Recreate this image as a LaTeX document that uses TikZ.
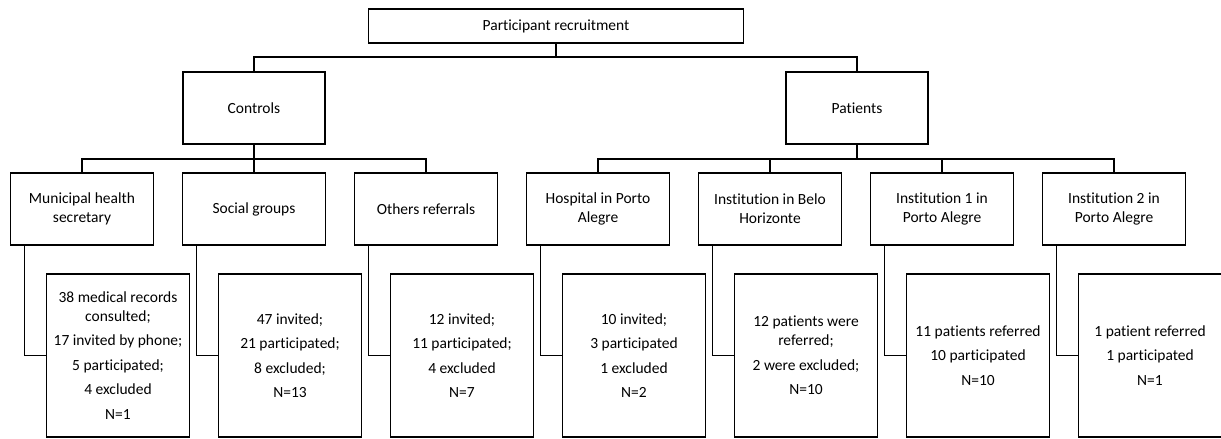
\documentclass[tikz,border=0pt]{standalone}
\usepackage{fontspec}
\setmainfont{Carlito}[Ligatures=NoCommon]
\usetikzlibrary{positioning}
\tikzset{
  box/.style={draw, line width=1.8pt, outer sep=0pt, inner sep=2pt, align=center,
    font=\fontsize{15.5}{19}\selectfont},
  headbox/.style={box, minimum width=375pt, minimum height=34pt},
  groupbox/.style={box, minimum width=142pt, minimum height=72pt},
  sitebox/.style={box, minimum width=143pt, minimum height=72pt},
  countbox/.style={box, minimum width=143pt, minimum height=163pt},
  link/.style={line width=1.8pt}
}

\begin{document}
\begin{tikzpicture}[x=1pt, y=-1pt, node distance=29pt]
    \useasboundingbox (0,0) rectangle (1221,439);
    \node[headbox] (recruit) at (556,26) {Participant recruitment};
    \node[groupbox] (controls) at (254,108) {Controls};
    \node[groupbox] (patients) at (857,108) {Patients};

    \node[sitebox] (municipal) at (82,209) {Municipal health\\secretary};
    \node[sitebox] (social) [right=of municipal] {Social groups};
    \node[sitebox] (others) [right=of social] {Others referrals};
    \node[sitebox] (hospital) [right=of others] {Hospital in Porto\\Alegre};
    \node[sitebox] (belo) [right=of hospital] {Institution in Belo\\Horizonte};
    \node[sitebox] (inst1) [right=of belo] {Institution 1 in\\Porto Alegre};
    \node[sitebox] (inst2) [right=of inst1] {Institution 2 in\\Porto Alegre};

    \node[countbox] (nmunicipal) [below right=29pt and 36pt of municipal.south west]
        {38 medical records\\consulted;\\[5.5pt]17 invited by phone;\\[5.5pt]5 participated;\\[5.5pt]4 excluded\\[5.5pt]N=1};
    \node[countbox] (nsocial) [below right=29pt and 36pt of social.south west]
        {47 invited;\\[5.5pt]21 participated;\\[5.5pt]8 excluded;\\[5.5pt]N=13};
    \node[countbox] (nothers) [below right=29pt and 36pt of others.south west]
        {12 invited;\\[5.5pt]11 participated;\\[5.5pt]4 excluded\\[5.5pt]N=7};
    \node[countbox] (nhospital) [below right=29pt and 36pt of hospital.south west]
        {10 invited;\\[5.5pt]3 participated\\[5.5pt]1 excluded\\[5.5pt]N=2};
    \node[countbox] (nbelo) [below right=29pt and 36pt of belo.south west]
        {12 patients were\\referred;\\[5.5pt]2 were excluded;\\[5.5pt]N=10};
    \node[countbox] (ninst1) [below right=29pt and 36pt of inst1.south west]
        {11 patients referred\\[5.5pt]10 participated\\[5.5pt]N=10};
    \node[countbox] (ninst2) [below right=29pt and 36pt of inst2.south west]
        {1 patient referred\\[5.5pt]1 participated\\[5.5pt]N=1};

    \draw[link] (recruit.south) -- ++(0,14) -| (controls.north);
    \draw[link] (recruit.south) -- ++(0,14) -| (patients.north);
    \foreach \site in {municipal, social, others}
        \draw[link] (controls.south) -- ++(0,15) -| (\site.north);
    \foreach \site in {hospital, belo, inst1, inst2}
        \draw[link] (patients.south) -- ++(0,15) -| (\site.north);
    \foreach \site in {municipal, social, others, hospital, belo, inst1, inst2}
        \draw[link] ([xshift=14pt]\site.south west) |- (n\site.west);
\end{tikzpicture}
\end{document}
